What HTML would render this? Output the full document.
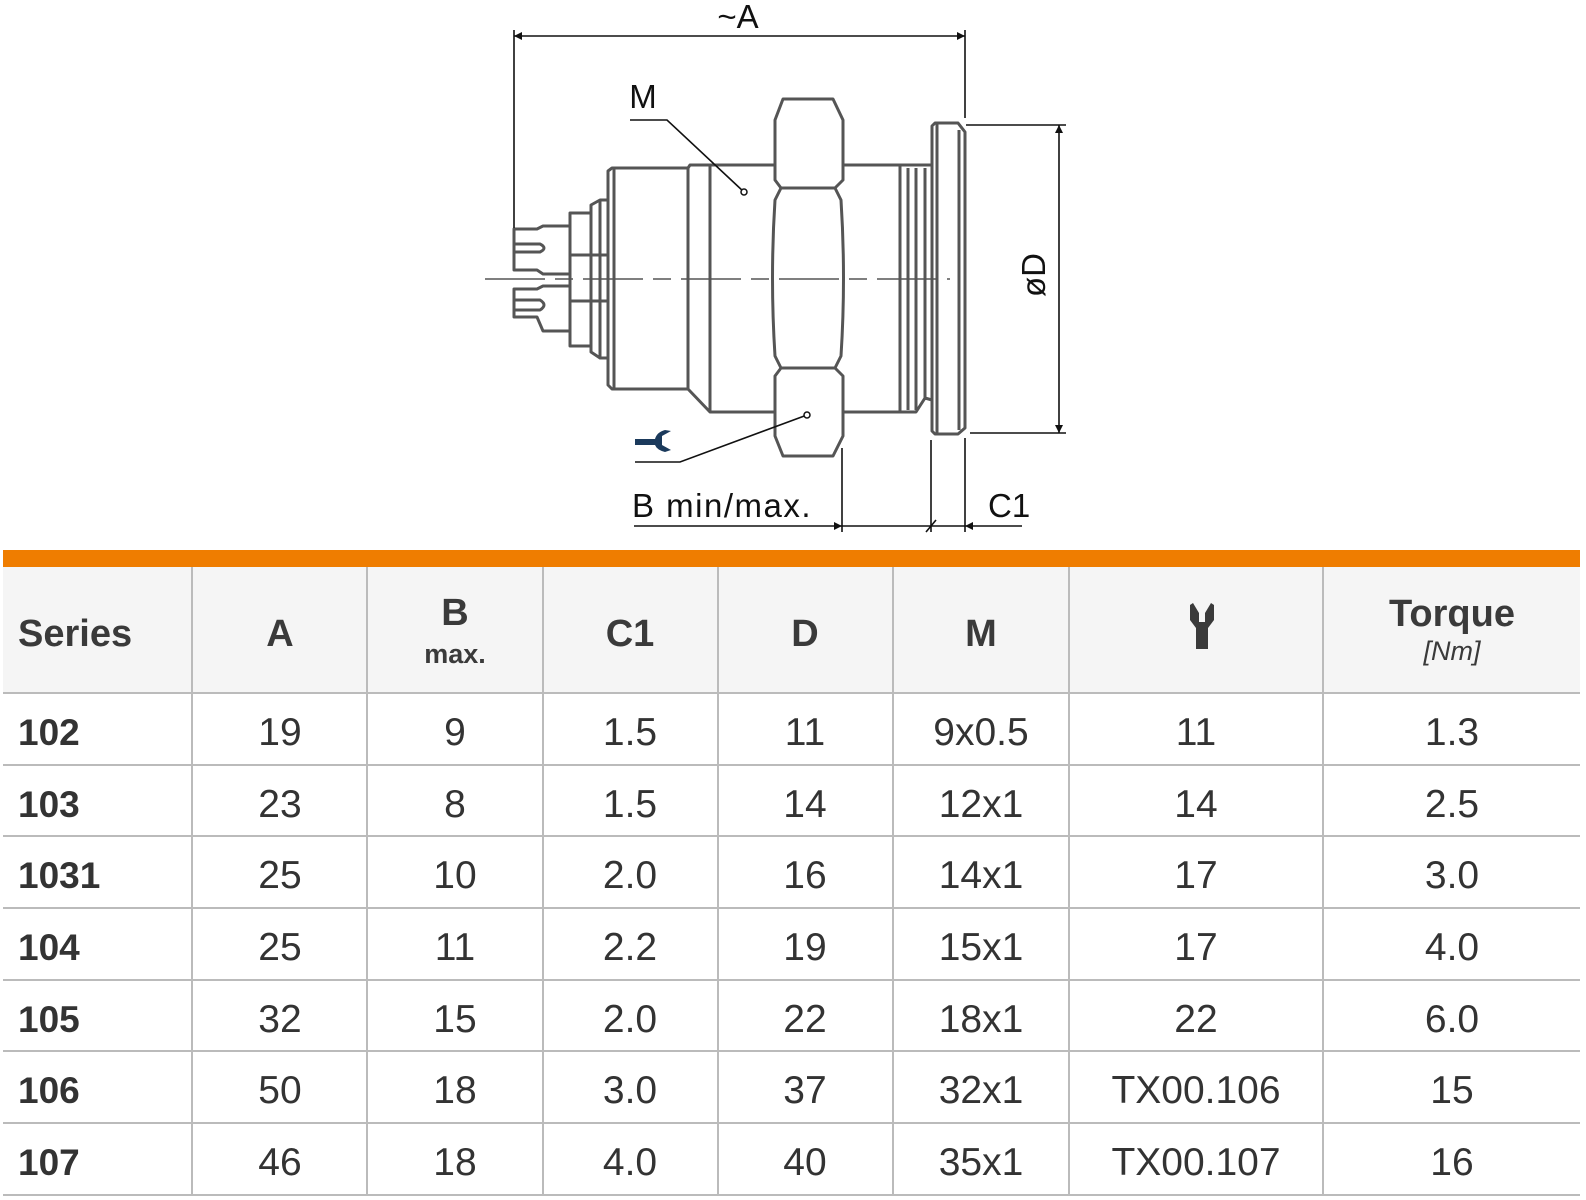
<!DOCTYPE html>
<html><head><meta charset="utf-8"><style>
html,body{margin:0;padding:0;background:#fff}
svg{display:block}
.h{font-family:"Liberation Sans Narrow","Liberation Sans",sans-serif;font-weight:bold;fill:#3a3a3a}
.d{font-family:"Liberation Sans",sans-serif;fill:#333;font-size:39px}
.s{font-family:"Liberation Sans Narrow","Liberation Sans",sans-serif;font-weight:bold;fill:#333;font-size:37px}
.l{font-family:"Liberation Sans",sans-serif;fill:#111;font-size:33px}
</style></head><body>
<svg width="1586" height="1200" viewBox="0 0 1586 1200" xmlns="http://www.w3.org/2000/svg">
<defs>
<marker id="ar" viewBox="0 0 10 10" refX="10" refY="5" markerWidth="16" markerHeight="8" markerUnits="userSpaceOnUse" orient="auto-start-reverse"><path d="M0,0 L10,5 L0,10z" fill="#111"/></marker>
</defs>
<g fill="none" stroke="#555" stroke-width="3" stroke-linejoin="round">
<path d="M570,226 L543,226 L537,229 L514,229 L514,270 L537,270 L543,274 L570,274"/>
<path d="M514,244 L540,244 Q548,248 540,252 L514,252"/>
<path d="M570,286 L543,286 L537,289 L514,289 L514,317 L537,317 L543,331 L570,331"/>
<path d="M514,300 L540,300 Q548,305 540,310 L514,310"/>
<rect x="570" y="213" width="21" height="133"/>
<line x1="570" y1="255" x2="608" y2="255"/><line x1="570" y1="301" x2="608" y2="301"/>
<path d="M591,213 L591,205 L600,200 L608,200 L608,358 L600,358 L591,352 L591,346"/>
<line x1="600" y1="200" x2="600" y2="358"/>
<path d="M608,171 L612,168 L688,168 L688,389 L612,389 L608,385 Z"/>
<line x1="614" y1="168" x2="614" y2="389"/>
<path d="M688,389 L710,412 L775,412 M688,168 L690,165 L775,165"/>
<line x1="710" y1="165" x2="710" y2="412"/>
<path d="M783,99 L833,99 L843,120 L843,180 L835,188 L781,188 L775,180 L775,120 Z"/>
<path d="M781,188 L775,200 Q770,278 775,356 L781,368 L835,368 L841,356 Q846,278 841,200 L835,188"/>
<path d="M781,368 L775,376 L775,436 L783,456 L833,456 L843,436 L843,376 L835,368"/>
<path d="M843,165 L900,165 M843,412 L900,412"/>
<line x1="900" y1="165" x2="900" y2="412"/>
<line x1="908" y1="168" x2="908" y2="410"/>
<line x1="916" y1="168" x2="916" y2="410"/>
<path d="M900,165 L932,165 M900,412 L916,412 L925,398 L932,400"/>
<line x1="925" y1="168" x2="925" y2="400"/>
<path d="M932,126 L935,123 L958,123 L965,132 L965,428 L958,434 L935,434 L932,431 Z"/>
<line x1="937" y1="123" x2="937" y2="434"/>
<line x1="959" y1="130" x2="959" y2="430"/>
</g>
<line x1="485" y1="279" x2="950" y2="279" stroke="#555" stroke-width="1.5" stroke-dasharray="60,10,18,10"/>
<g stroke="#111" stroke-width="1.6" fill="none">
<line x1="514" y1="30" x2="514" y2="228"/>
<line x1="965" y1="30" x2="965" y2="118"/>
<line x1="514" y1="36" x2="965" y2="36" marker-start="url(#ar)" marker-end="url(#ar)"/>
<line x1="966" y1="125" x2="1066" y2="125"/>
<line x1="970" y1="433" x2="1066" y2="433"/>
<line x1="1059" y1="125" x2="1059" y2="433" marker-start="url(#ar)" marker-end="url(#ar)"/>
<line x1="842" y1="448" x2="842" y2="532"/>
<line x1="931" y1="440" x2="931" y2="532"/>
<line x1="965" y1="438" x2="965" y2="532"/>
<line x1="634" y1="526" x2="842" y2="526" marker-end="url(#ar)"/>
<line x1="842" y1="526" x2="965" y2="526"/>
<line x1="1022" y1="526" x2="965" y2="526" marker-end="url(#ar)"/>
<line x1="926" y1="532" x2="936" y2="520"/>
<path d="M630,120 L667,120 L744,192"/>
<path d="M635,462 L680,462 L807,415"/>
</g>
<circle cx="744" cy="192" r="3" fill="#fff" stroke="#111" stroke-width="1.5"/>
<circle cx="807" cy="415" r="3" fill="#fff" stroke="#111" stroke-width="1.5"/>
<path d="M635,439 L655,439 Q657,432 665,430 L671,431 L662,436 L662,445 L671,450 L665,452 Q657,450 655,445 L635,445 Z" fill="#1b3a5c"/>
<text class="l" x="738" y="28" text-anchor="middle">~A</text>
<text class="l" x="643" y="108" text-anchor="middle">M</text>
<text class="l" x="632" y="517" letter-spacing="1.5">B min/max.</text>
<text class="l" x="988" y="517">C1</text>
<text class="l" transform="translate(1045,275) rotate(-90)" text-anchor="middle">øD</text>
<rect x="3" y="550" width="1577" height="17" fill="#ef7d00"/>
<rect x="3" y="567" width="1577" height="126" fill="#f5f5f5"/>
<g stroke="#bbb" stroke-width="2">
<line x1="192" y1="567" x2="192" y2="1195"/><line x1="367" y1="567" x2="367" y2="1195"/>
<line x1="543" y1="567" x2="543" y2="1195"/><line x1="718" y1="567" x2="718" y2="1195"/>
<line x1="893" y1="567" x2="893" y2="1195"/><line x1="1069" y1="567" x2="1069" y2="1195"/>
<line x1="1323" y1="567" x2="1323" y2="1195"/>
<line x1="3" y1="693" x2="1580" y2="693"/><line x1="3" y1="765" x2="1580" y2="765"/>
<line x1="3" y1="836" x2="1580" y2="836"/><line x1="3" y1="908" x2="1580" y2="908"/>
<line x1="3" y1="980" x2="1580" y2="980"/><line x1="3" y1="1051" x2="1580" y2="1051"/>
<line x1="3" y1="1123" x2="1580" y2="1123"/><line x1="3" y1="1195" x2="1580" y2="1195"/>
</g>
<g class="h" font-size="38">
<text x="18" y="646">Series</text>
<text x="280" y="646" text-anchor="middle">A</text>
<text x="455" y="625" text-anchor="middle">B</text>
<text x="455" y="663" text-anchor="middle" font-size="27">max.</text>
<text x="630" y="646" text-anchor="middle">C1</text>
<text x="805" y="646" text-anchor="middle">D</text>
<text x="981" y="646" text-anchor="middle">M</text>
<text x="1452" y="626" text-anchor="middle" font-family="Liberation Sans">Torque</text>
<text x="1452" y="660" text-anchor="middle" font-family="Liberation Sans" font-weight="normal" font-style="italic" font-size="27">[Nm]</text>
</g>
<path d="M1193,603 L1199,613 L1199,622 L1205,622 L1205,613 L1211,603 L1214,605 L1214,620 L1208,628 L1208,649 L1196,649 L1196,628 L1190,620 L1190,605 Z" fill="#3a3a3a"/>
<text class="s" x="18" y="745">102</text><text class="s" x="18" y="817">103</text><text class="s" x="18" y="888">1031</text><text class="s" x="18" y="960">104</text><text class="s" x="18" y="1032">105</text><text class="s" x="18" y="1103">106</text><text class="s" x="18" y="1175">107</text>
<g class="d" text-anchor="middle">
<text x="280" y="745">19</text><text x="455" y="745">9</text><text x="630" y="745">1.5</text><text x="805" y="745">11</text><text x="981" y="745">9x0.5</text><text x="1196" y="745">11</text><text x="1452" y="745">1.3</text>
<text x="280" y="817">23</text><text x="455" y="817">8</text><text x="630" y="817">1.5</text><text x="805" y="817">14</text><text x="981" y="817">12x1</text><text x="1196" y="817">14</text><text x="1452" y="817">2.5</text>
<text x="280" y="888">25</text><text x="455" y="888">10</text><text x="630" y="888">2.0</text><text x="805" y="888">16</text><text x="981" y="888">14x1</text><text x="1196" y="888">17</text><text x="1452" y="888">3.0</text>
<text x="280" y="960">25</text><text x="455" y="960">11</text><text x="630" y="960">2.2</text><text x="805" y="960">19</text><text x="981" y="960">15x1</text><text x="1196" y="960">17</text><text x="1452" y="960">4.0</text>
<text x="280" y="1032">32</text><text x="455" y="1032">15</text><text x="630" y="1032">2.0</text><text x="805" y="1032">22</text><text x="981" y="1032">18x1</text><text x="1196" y="1032">22</text><text x="1452" y="1032">6.0</text>
<text x="280" y="1103">50</text><text x="455" y="1103">18</text><text x="630" y="1103">3.0</text><text x="805" y="1103">37</text><text x="981" y="1103">32x1</text><text x="1196" y="1103">TX00.106</text><text x="1452" y="1103">15</text>
<text x="280" y="1175">46</text><text x="455" y="1175">18</text><text x="630" y="1175">4.0</text><text x="805" y="1175">40</text><text x="981" y="1175">35x1</text><text x="1196" y="1175">TX00.107</text><text x="1452" y="1175">16</text>
</g>
</svg>
</body></html>
